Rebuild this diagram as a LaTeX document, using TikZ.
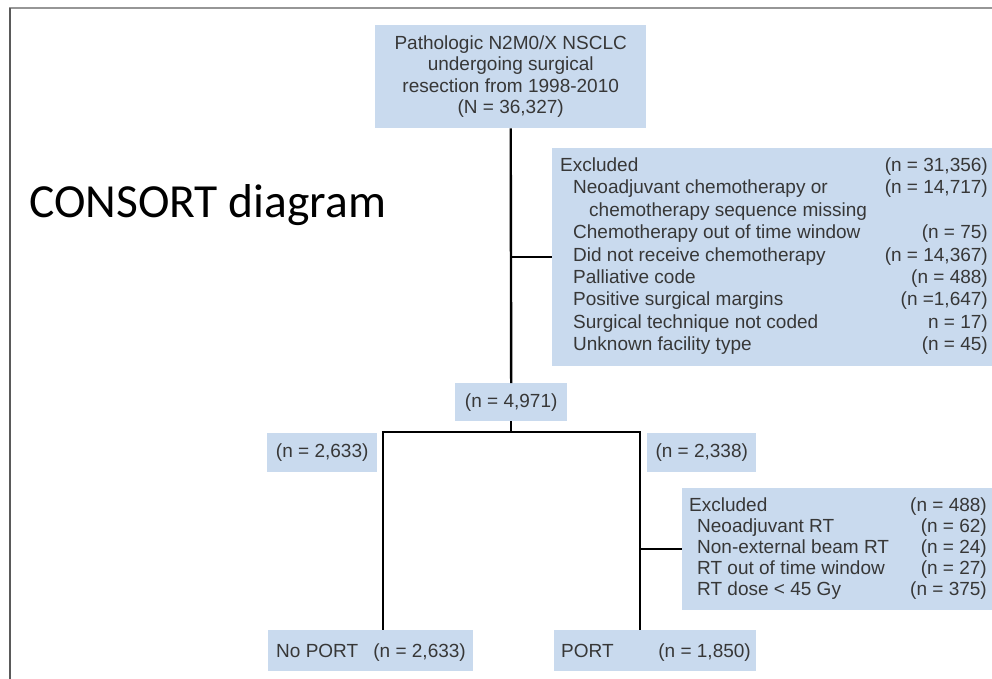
\documentclass[tikz,border=0pt]{standalone}
\usepackage{fontspec}
\setmainfont{Liberation Sans}
\newfontfamily\titlefont{Carlito}
\definecolor{boxblue}{RGB}{201,218,238}
\definecolor{ink}{RGB}{55,55,55}
\definecolor{framegray}{RGB}{150,150,150}
\definecolor{edgegray}{RGB}{90,90,90}
\begin{document}
\begin{tikzpicture}[x=1pt,y=-1pt,
  box/.style={fill=boxblue, draw=none, inner sep=0pt, anchor=north west,
              text=ink, font=\fontsize{19}{21.5}\selectfont, align=center},
  txt/.style={inner sep=0pt, text=ink, font=\fontsize{19}{21.5}\selectfont},
  lt/.style={txt, anchor=base west},
  rt/.style={txt, anchor=base east},
  link/.style={line width=2.4pt, black}]
\useasboundingbox (0,0) rectangle (992,679);

% page frame
\draw[framegray, line width=2pt] (9,8) -- (992,8);
\draw[edgegray, line width=2.5pt] (10,8) -- (10,679);

% title
\node[anchor=base west, inner sep=0pt, font=\titlefont\fontsize{47.5}{50}\selectfont] (title) at (29,217) {CONSORT diagram};

% boxes
\node[box, minimum width=271pt, minimum height=103pt] (top) at (375,25)
  {Pathologic N2M0/X NSCLC\\undergoing surgical\\resection from 1998-2010\\(N = 36,327)};
\node[box, minimum width=445pt, minimum height=218pt] (excl1) at (552,148) {};
\node[box, minimum width=112pt, minimum height=38pt] (mid) at (455,383) {(n = 4,971)};
\node[box, minimum width=110pt, minimum height=39pt] (left) at (267,433) {(n = 2,633)};
\node[box, minimum width=109pt, minimum height=39pt] (right) at (647,433) {(n = 2,338)};
\node[box, minimum width=315pt, minimum height=122pt] (excl2) at (682,488) {};
\node[box, minimum width=205pt, minimum height=41pt] (noport) at (268,630) {};
\node[box, minimum width=202pt, minimum height=41pt] (port) at (554,630) {};

% first exclusion list
\node[lt] (a0) at (560,171.5) {Excluded};
\node[rt] (b0) at (988,171.5) {(n = 31,356)};
\node[lt] (a1) at (573,193.9) {Neoadjuvant chemotherapy or};
\node[rt] (b1) at (988,193.9) {(n = 14,717)};
\node[lt] (a2) at (589,216.3) {chemotherapy sequence missing};
\node[lt] (a3) at (573,238.7) {Chemotherapy out of time window};
\node[rt] (b3) at (988,238.7) {(n = 75)};
\node[lt] (a4) at (573,261.1) {Did not receive chemotherapy};
\node[rt] (b4) at (988,261.1) {(n = 14,367)};
\node[lt] (a5) at (573,283.5) {Palliative code};
\node[rt] (b5) at (988,283.5) {(n = 488)};
\node[lt] (a6) at (573,305.9) {Positive surgical margins};
\node[rt] (b6) at (988,305.9) {(n =1,647)};
\node[lt] (a7) at (573,328.3) {Surgical technique not coded};
\node[rt] (b7) at (988,328.3) {n = 17)};
\node[lt] (a8) at (573,350.7) {Unknown facility type};
\node[rt] (b8) at (988,350.7) {(n = 45)};

% second exclusion list
\node[lt] (c0) at (689,511.5) {Excluded};
\node[rt] (d0) at (987,511.5) {(n = 488)};
\node[lt] (c1) at (697,532.5) {Neoadjuvant RT};
\node[rt] (d1) at (987,532.5) {(n = 62)};
\node[lt] (c2) at (697,553.5) {Non-external beam RT};
\node[rt] (d2) at (987,553.5) {(n = 24)};
\node[lt] (c3) at (697,574.5) {RT out of time window};
\node[rt] (d3) at (987,574.5) {(n = 27)};
\node[lt] (c4) at (697,595.5) {RT dose < 45 Gy};
\node[rt] (d4) at (987,595.5) {(n = 375)};

% arm boxes
\node[lt] (np) at (276,657.5) {No PORT};
\node[rt] (npn) at (466,657.5) {(n = 2,633)};
\node[lt] (p) at (561,657.5) {PORT};
\node[rt] (pn) at (751,657.5) {(n = 1,850)};

% connectors
\coordinate (bl) at (383,432);
\coordinate (br) at (640,432);
\draw[link] (top.south) -- (mid.north);
\draw[link] (top.south |- excl1.west) -- (excl1.west);
\draw[link] (mid.south) -- (mid.south |- bl);
\draw[link] ([xshift=-1.2pt]bl) -- ([xshift=1.2pt]br);
\draw[link] (bl) -- (bl |- noport.north);
\draw[link] (br) -- (br |- port.north);
\draw[link] (br |- excl2.west) -- (excl2.west);
\end{tikzpicture}
\end{document}
